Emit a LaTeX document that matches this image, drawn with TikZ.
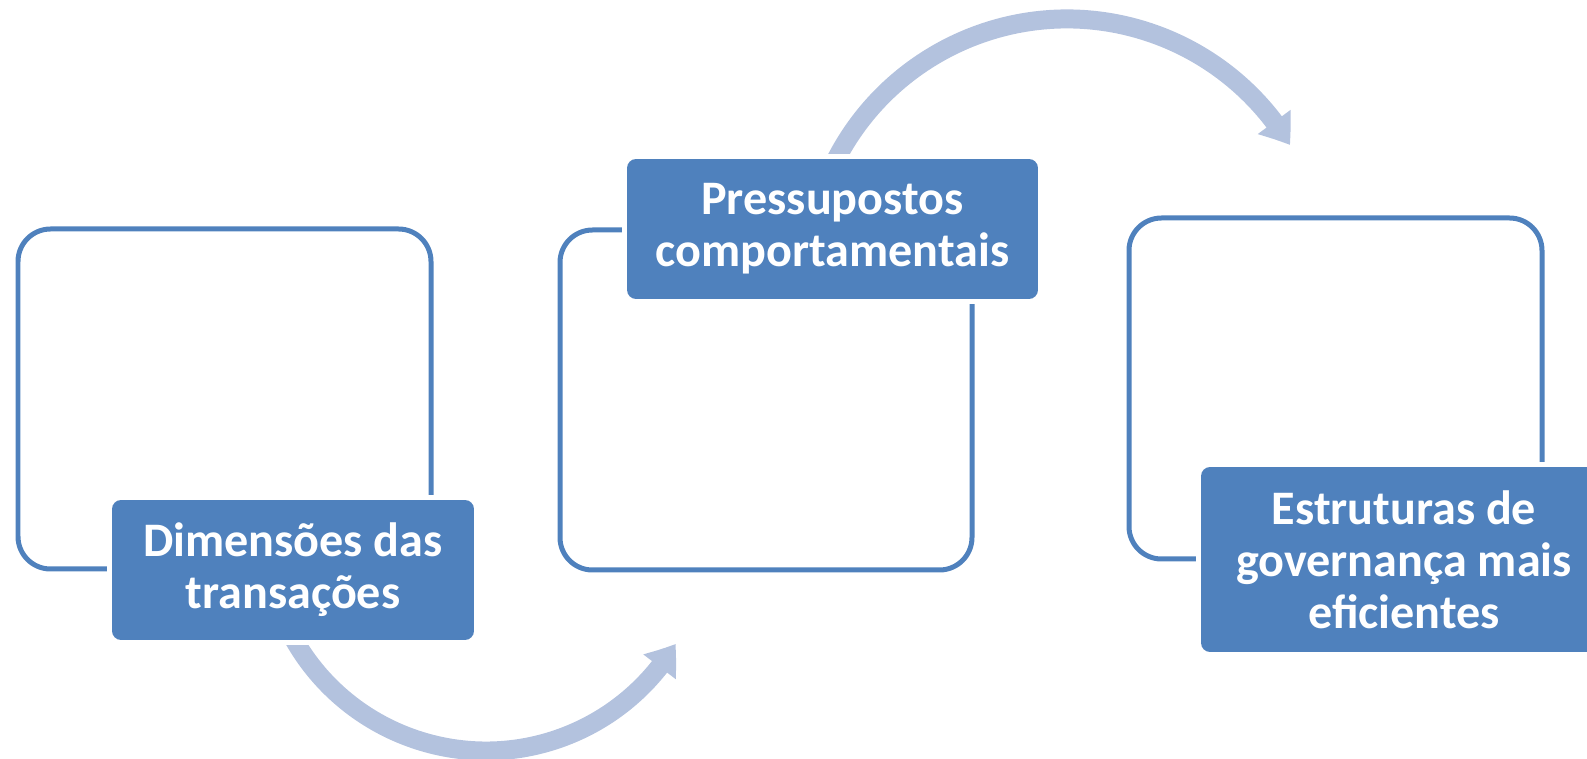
\documentclass[tikz,border=0pt]{standalone}
\usepackage{fontspec}
\setmainfont{Carlito}
\usetikzlibrary{arrows.meta,bending}
\definecolor{boxblue}{RGB}{79,129,189}
\definecolor{arrowblue}{RGB}{179,194,222}
\tikzset{
	bigframe/.style={draw=boxblue, line width=0.1cm, rounded corners=0.65cm},
	titlebox/.style={fill=boxblue, rounded corners=0.18cm, preaction={draw=white, line width=0.2cm},
		text=white, font=\bfseries\fontsize{27.4}{29.6}\selectfont, align=center, inner sep=0pt},
	bentarrow/.style={draw=arrowblue, line width=0.38cm, -{Triangle[width=0.78cm, length=0.56cm, bend]}}
}
\begin{document}
\begin{tikzpicture}[x=0.02cm, y=-0.02cm]
			%%%%% START %%%%%
			\clip (0,0) rectangle (1587,759);
			
			\draw[bigframe] (18,229) rectangle (431,569);
			\draw[bigframe] (560,230) rectangle (972,570);
			\draw[bigframe] (1129,218) rectangle (1542,559);
			
			\coordinate (low) at (486,530);
			\coordinate (high) at (1067,279);
			\draw[bentarrow] (low) ++(155:221) arc (155:31:221);
			\draw[bentarrow] (high) ++(-160:260) arc (-160:-31:260);
			
			\node[titlebox, minimum width=7.24cm, minimum height=2.8cm] (dim) at (293,570) {Dimensões das\\transações};
			\node[titlebox, minimum width=8.22cm, minimum height=2.8cm] (pres) at (832.5,229) {Pressupostos\\comportamentais};
			\node[titlebox, minimum width=8.12cm, minimum height=3.7cm] (estr) at (1404,559.5) {Estruturas de\\governança mais\\eficientes};
			
			%%%%% END %%%%%
\end{tikzpicture}
\end{document}
